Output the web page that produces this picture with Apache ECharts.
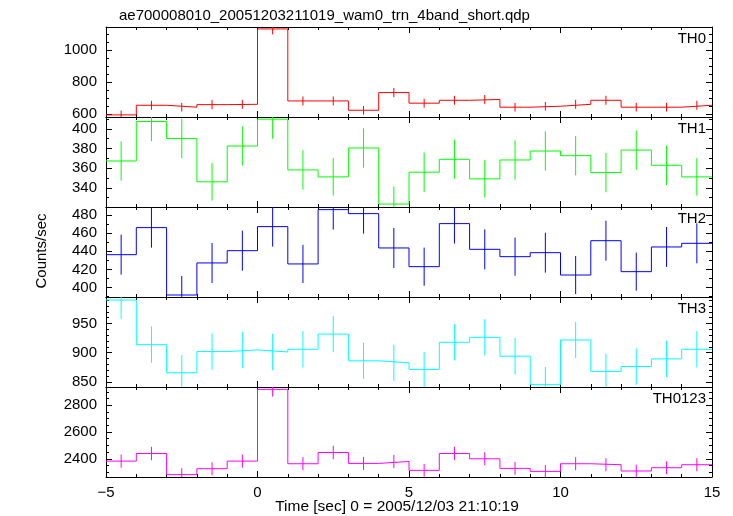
<!DOCTYPE html>
<html>
<head>
<meta charset="utf-8">
<script src="https://cdn.jsdelivr.net/npm/echarts@6/dist/echarts.min.js"></script>
<style>html,body{margin:0;padding:0;background:#fff;}#c{width:733px;height:516px;}</style>
</head>
<body>
<div id="c"></div>
<script>
// ---- data ----
const binEdges = [-5,-4,-3,-2,-1,0,1,2,3,4,5,6,7,8,9,10,11,12,13,14];
const binWidth = 1;
const panelNames = ['TH0','TH1','TH2','TH3','TH0123'];
const th0 = [596,656,644,660,662,1131,683,683,625,735,669,687,692,644,650,662,687,644,644,656];
const th0Err = [27,28,27,28,28,34,28,28,27,29,28,28,28,27,27,28,28,27,27,28];
const th1 = [367.3,407.4,390.2,346.1,382.5,409.8,358.2,351.1,380.5,323.5,355.9,369,349.1,368.3,377.4,372.7,355.5,378.4,362.9,351.1];
const th1Err = [20,20,20,19,20,20,20,19,20,18,20,20,19,20,20,20,20,20,20,19];
const th2 = [436.3,466.1,391.9,427.2,440.7,467.2,426.1,485.9,481.5,443.7,423.1,470.5,442.2,434.1,438.5,413.9,451.7,417.6,444.8,448.8];
const th2Err = [22,22,21,22,22,22,21,22,22,22,21,22,22,21,22,21,22,21,22,22];
const th3 = [990.1,913.8,865.8,902,904.8,901.4,905.9,931.9,886.2,882.8,871.5,917.8,926.3,894.1,845.5,921.8,868.1,876.5,889.5,905.9];
const th3Err = [32,31,30,31,31,31,31,31,31,31,30,31,31,31,30,31,30,31,31,31];
const th0123 = [2382.7,2439.5,2281.5,2326,2382.7,2918.5,2363,2447,2365.5,2380,2313.6,2439.5,2400,2328.4,2306,2363,2355.6,2308.7,2333.4,2355.6];
const th0123Err = [49,50,48,48,49,54,49,50,49,49,48,50,49,48,48,49,49,48,48,49];
// axis ranges and tick labels per panel
const yMin = [583, 320.5, 389.7, 841.5, 2264];
const yMax = [1143, 412, 488.8, 995.2, 2936];
const yMajor = [[600,800,1000],[340,360,380,400],[400,420,440,460,480],[850,900,950],[2400,2600,2800]];
const yMinorStep = [50, 10, 10, 10, 50];
const colors = ['#ff0000','#00ff00','#0000ff','#00ffff','#ff00ff'];

const values = [th0, th1, th2, th3, th0123];
const errs = [th0Err, th1Err, th2Err, th3Err, th0123Err];

// ---- layout ----
const L = 106, R = 21, TOP = 27, H = 90;
const FONT = 'Liberation Sans, Helvetica, Arial, sans-serif';

const grids = [], xAxes = [], yAxes = [], series = [], graphics = [];
for (let i = 0; i < 5; i++) {
  grids.push({left: L, right: R, top: TOP + i*H, height: H, containLabel: false});
  const minors = [];
  for (let v = Math.ceil(yMin[i]/yMinorStep[i])*yMinorStep[i]; v <= yMax[i]; v += yMinorStep[i]) {
    if (yMajor[i].indexOf(v) < 0) minors.push(v);
  }
  const xBase = {type:'value', gridIndex:i, min:-5, max:15, interval:5,
    axisLine:{show:true, onZero:false, lineStyle:{color:'#000', width:1}},
    axisTick:{show:true, inside:true, length:6, lineStyle:{color:'#000'}},
    minorTick:{show:true, splitNumber:5, length:3, lineStyle:{color:'#000'}},
    splitLine:{show:false}};
  xAxes.push(Object.assign({}, xBase, {position:'bottom',
    axisLabel:{show: i===4, color:'#000', fontSize:15, fontFamily:FONT, margin:8,
      formatter: v => String(v).replace('-', '\u2212')}}));
  xAxes.push(Object.assign({}, xBase, {position:'top', axisLabel:{show:false}}));
  const yBase = {type:'value', gridIndex:i, min:yMin[i], max:yMax[i], splitLine:{show:false}};
  // left major
  yAxes.push(Object.assign({}, yBase, {position:'left',
    axisLine:{show:true, onZero:false, lineStyle:{color:'#000', width:1}},
    axisTick:{show:true, inside:true, length:6, customValues:yMajor[i], lineStyle:{color:'#000'}},
    axisLabel:{show:true, customValues:yMajor[i], color:'#000', fontSize:15, fontFamily:FONT, margin:9,
      formatter: v => String(v)}}));
  // left minor
  yAxes.push(Object.assign({}, yBase, {position:'left',
    axisLine:{show:false, onZero:false}, axisLabel:{show:false},
    axisTick:{show:true, inside:true, length:3, customValues:minors, lineStyle:{color:'#000'}}}));
  // right major
  yAxes.push(Object.assign({}, yBase, {position:'right',
    axisLine:{show:true, onZero:false, lineStyle:{color:'#000', width:1}}, axisLabel:{show:false},
    axisTick:{show:true, inside:true, length:6, customValues:yMajor[i], lineStyle:{color:'#000'}}}));
  // right minor
  yAxes.push(Object.assign({}, yBase, {position:'right',
    axisLine:{show:false, onZero:false}, axisLabel:{show:false},
    axisTick:{show:true, inside:true, length:3, customValues:minors, lineStyle:{color:'#000'}}}));

  const stepData = binEdges.map((e, k) => [e, values[i][k]]);
  stepData.push([binEdges[binEdges.length-1] + binWidth, values[i][values[i].length-1]]);
  series.push({type:'line', xAxisIndex:2*i, yAxisIndex:4*i, step:'end', data:stepData,
    symbol:'none', clip:true, lineStyle:{color:colors[i], width:1}, silent:true});
  const errData = binEdges.map((e, k) => [e + binWidth/2, values[i][k], errs[i][k]]);
  const col = colors[i];
  series.push({type:'custom', xAxisIndex:2*i, yAxisIndex:4*i, data:errData, clip:true, silent:true,
    renderItem: (params, api) => {
      const x = api.value(0), y = api.value(1), e = api.value(2);
      const p1 = api.coord([x, y - e]), p2 = api.coord([x, y + e]);
      return {type:'line', shape:{x1:p1[0], y1:p1[1], x2:p2[0], y2:p2[1]},
        style:{stroke:col, lineWidth:1}};
    }});
  graphics.push({type:'text', right: R + 6, top: TOP + i*H + 4,
    style:{text: panelNames[i], fill:'#000', font:'15px ' + FONT, textAlign:'right'}});
}

graphics.push({type:'text', left: 119, top: 8,
  style:{text:'ae700008010_20051203211019_wam0_trn_4band_short.qdp', fill:'#000', font:'15px ' + FONT}});
graphics.push({type:'text', x: 42, y: 251, rotation: Math.PI/2,
  style:{text:'Counts/sec', fill:'#000', font:'15px ' + FONT, textAlign:'center', textVerticalAlign:'middle'}});
graphics.push({type:'text', x: 397, y: 507,
  style:{text:'Time [sec] 0 = 2005/12/03 21:10:19', fill:'#000', font:'15.5px ' + FONT, textAlign:'center', textVerticalAlign:'middle'}});

const chart = echarts.init(document.getElementById('c'), null, {renderer:'canvas'});
chart.setOption({
  animation:false,
  backgroundColor:'#fff',
  grid: grids, xAxis: xAxes, yAxis: yAxes, series: series, graphic: graphics
});
</script>
</body>
</html>
